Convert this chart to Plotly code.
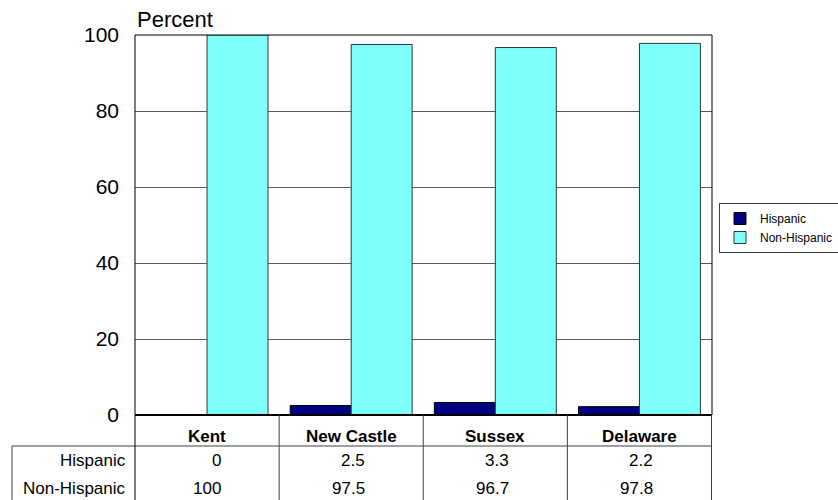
import plotly.graph_objects as go

categories = ["Kent", "New Castle", "Sussex", "Delaware"]
hispanic = [0, 2.5, 3.3, 2.2]
non_hispanic = [100, 97.5, 96.7, 97.8]
series_names = ["Hispanic", "Non-Hispanic"]
y_ticks = [0, 20, 40, 60, 80, 100]

FONT = "Liberation Sans, Arial, sans-serif"
W_WIN, H_WIN = 838, 500
L, R, T, B = 135, 712, 35, 415
PW, PH = R - L, B - T


def px_x(px):
    return (px - L) / PW


def px_y(py):
    return (B - py) / PH


fig = go.Figure()
fig.add_trace(go.Bar(
    x=categories, y=hispanic, name=series_names[0],
    marker=dict(color="#000080", line=dict(color="#000000", width=1)),
))
fig.add_trace(go.Bar(
    x=categories, y=non_hispanic, name=series_names[1],
    marker=dict(color="#80FFFF", line=dict(color="#333333", width=1)),
))

shapes = []
line_col = "#404040"
# plot frame
shapes.append(dict(type="rect", xref="paper", yref="paper", x0=0, x1=1, y0=0, y1=1,
                   line=dict(color="#000000", width=1), layer="above"))
# bottom axis line (thick)
shapes.append(dict(type="line", xref="paper", yref="paper", x0=0, x1=1, y0=0, y1=0,
                   line=dict(color="#000000", width=2), layer="above"))
# table horizontal line under header
shapes.append(dict(type="line", xref="paper", yref="paper", x0=px_x(12), x1=1,
                   y0=px_y(446), y1=px_y(446), line=dict(color=line_col, width=1)))
# left border of label column
shapes.append(dict(type="line", xref="paper", yref="paper", x0=px_x(12), x1=px_x(12),
                   y0=px_y(446), y1=px_y(501), line=dict(color=line_col, width=1)))
# left border of data columns
shapes.append(dict(type="line", xref="paper", yref="paper", x0=0, x1=0,
                   y0=0, y1=px_y(501), line=dict(color="#000000", width=1)))
# category separators and right border
for i in range(len(categories)):
    shapes.append(dict(type="line", xref="x", yref="paper", x0=i + 0.5, x1=i + 0.5,
                       y0=0, y1=px_y(501), line=dict(color=line_col, width=1)))

annotations = []
annotations.append(dict(text="Percent", xref="paper", yref="paper", x=0, y=1,
                        xanchor="left", yanchor="bottom", yshift=1, showarrow=False,
                        font=dict(family=FONT, size=22, color="#000000")))
for c in categories:
    annotations.append(dict(text="<b>%s</b>" % c, xref="x", yref="paper", x=c, y=px_y(436),
                            xanchor="center", yanchor="middle", showarrow=False,
                            font=dict(family=FONT, size=17, color="#000000")))
rows = [(series_names[0], hispanic, 460), (series_names[1], non_hispanic, 488)]
for name, vals, py in rows:
    annotations.append(dict(text=name, xref="paper", yref="paper", x=px_x(128), y=px_y(py),
                            xanchor="right", yanchor="middle", showarrow=False,
                            font=dict(family=FONT, size=17, color="#000000")))
    for c, v in zip(categories, vals):
        annotations.append(dict(text=("%g" % v), xref="x", yref="paper", x=c, y=px_y(py),
                                xanchor="right", yanchor="middle", xshift=16, showarrow=False,
                                font=dict(family=FONT, size=17, color="#000000")))

fig.update_layout(
    width=W_WIN, height=H_WIN,
    margin=dict(l=L, r=W_WIN - R, t=T, b=H_WIN - B, pad=0, autoexpand=False),
    paper_bgcolor="#FFFFFF", plot_bgcolor="#FFFFFF",
    barmode="group", bargap=0.154, bargroupgap=0,
    font=dict(family=FONT, color="#000000"),
    xaxis=dict(showticklabels=False, ticks="", showgrid=False, zeroline=False,
               showline=False, fixedrange=True),
    yaxis=dict(range=[0, 100], tickvals=y_ticks, ticks="", showgrid=True,
               gridcolor="#595959", gridwidth=1, zeroline=False, showline=False,
               ticklabelstandoff=15, tickfont=dict(family=FONT, size=21, color="#000000"),
               fixedrange=True),
    legend=dict(x=px_x(719), y=px_y(203), xanchor="left", yanchor="top",
                bordercolor="#404040", borderwidth=1, bgcolor="#FFFFFF",
                font=dict(family=FONT, size=12, color="#000000"),
                itemwidth=30, tracegroupgap=2),
    shapes=shapes, annotations=annotations,
    showlegend=True,
)

fig.write_html("out.html", config={"displayModeBar": False},
               post_script="document.body.style.margin='0';document.body.style.overflow='hidden';")
